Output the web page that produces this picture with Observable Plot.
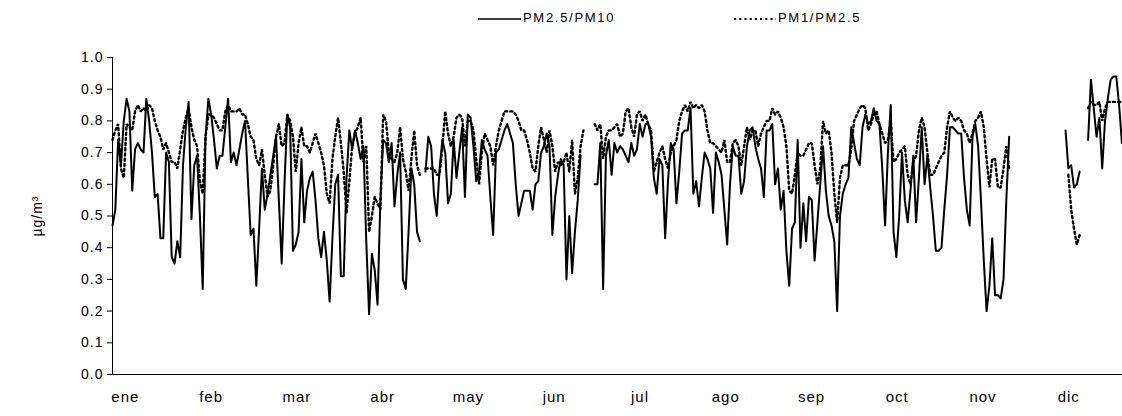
<!DOCTYPE html>
<html><head><meta charset="utf-8">
<script src="https://cdn.jsdelivr.net/npm/d3@7"></script>
<script src="https://cdn.jsdelivr.net/npm/@observablehq/plot@0.6"></script>
<style>
body{margin:0;background:#fff;font-family:"Liberation Sans",Arial,sans-serif;}
#legend{position:relative;height:40px;width:1122px;}
.lg{position:absolute;top:10px;font-size:13px;letter-spacing:1.7px;color:#000;line-height:16px;}
.sw{position:absolute;top:10px;}
</style></head><body>
<div id="legend"></div>
<div id="chart"></div>
<script>
const months = ["ene","feb","mar","abr","may","jun","jul","ago","sep","oct","nov","dic"];
const monthDays = [31,28,31,30,31,30,31,31,30,31,30,25];
const seriesNames = ["PM2.5/PM10","PM1/PM2.5"];
const yTicks = [0,0.1,0.2,0.3,0.4,0.5,0.6,0.7,0.8,0.9,1.0];

// PM2.5/PM10 (solid), daily values per month
const pm25_ene = [0.47,0.52,0.74,0.66,0.80,0.87,0.83,0.58,0.71,0.73,0.71,0.70,0.87,0.80,0.70,0.56,0.57,0.43,0.43,0.70,0.67,0.37,0.35,0.42,0.37,0.66,0.78,0.86,0.49,0.66,0.69];
const pm25_feb = [0.50,0.27,0.75,0.87,0.82,0.74,0.65,0.69,0.69,0.78,0.87,0.67,0.70,0.66,0.71,0.76,0.80,0.62,0.44,0.46,0.28,0.46,0.65,0.52,0.57,0.63,0.69,0.75];
const pm25_mar = [0.55,0.35,0.60,0.82,0.78,0.39,0.41,0.45,0.68,0.48,0.58,0.62,0.64,0.55,0.43,0.37,0.45,0.36,0.23,0.43,0.60,0.63,0.31,0.31,0.62,0.77,0.71,0.77,0.73,0.68,0.72];
const pm25_abr = [0.42,0.19,0.38,0.33,0.22,0.55,0.74,0.73,0.67,0.73,0.53,0.63,0.70,0.30,0.27,0.45,0.65,0.60,0.45,0.42,null,0.64,0.75,0.72,0.57,0.50,0.65,0.74,0.70,0.54];
const pm25_may = [0.57,0.74,0.62,0.70,0.78,0.56,0.82,0.81,0.72,0.61,0.64,0.74,0.71,0.69,0.56,0.44,0.70,0.71,0.74,0.77,0.79,0.76,0.73,0.60,0.50,0.54,0.58,0.58,0.58,0.52,0.60];
const pm25_jun = [0.61,0.70,0.72,0.76,0.72,0.44,0.56,0.63,0.68,0.66,0.30,0.50,0.32,0.45,0.55,0.69,null,null,null,null,0.60,0.60,0.73,0.27,0.69,0.74,0.63,0.73,0.70,0.72];
const pm25_jul = [0.71,0.69,0.67,0.73,0.69,0.71,0.79,0.75,0.79,0.79,0.75,0.62,0.57,0.68,0.66,0.43,0.61,0.73,0.71,0.54,0.64,0.76,0.77,0.77,0.84,0.57,0.61,0.53,0.62,0.70,0.68];
const pm25_ago = [0.65,0.51,0.70,0.67,0.63,0.52,0.41,0.60,0.72,0.69,0.69,0.57,0.61,0.72,0.77,0.78,0.72,0.68,0.65,0.56,0.77,0.77,0.79,0.60,0.65,0.52,0.58,0.39,0.28,0.46,0.48];
const pm25_sep = [0.74,0.40,0.54,0.42,0.56,0.55,0.36,0.48,0.60,0.72,0.58,0.50,0.47,0.42,0.20,0.50,0.57,0.60,0.62,0.78,0.73,0.68,0.66,0.78,0.82,0.79,0.80,0.84,0.80,0.79];
const pm25_oct = [0.65,0.47,0.70,0.85,0.45,0.37,0.50,0.70,0.55,0.48,0.58,0.69,0.48,0.62,0.78,0.60,0.69,0.59,0.50,0.39,0.39,0.40,0.52,0.63,0.78,0.78,0.77,0.76,0.76,0.62,0.52];
const pm25_nov = [0.47,0.75,0.79,0.72,0.55,0.36,0.20,0.28,0.43,0.25,0.25,0.24,0.30,0.55,0.75,null,null,null,null,null,null,null,null,null,null,null,null,null,null,null];
const pm25_dic = [null,null,null,null,0.77,0.65,0.66,0.59,0.60,0.64,null,null,0.74,0.93,0.84,0.75,0.81,0.65,0.80,0.87,0.93,0.94,0.94,0.85,0.73];

// PM1/PM2.5 (dotted), daily values per month
const pm1_ene = [0.74,0.77,0.79,0.65,0.62,0.79,0.78,0.77,0.83,0.85,0.83,0.84,0.83,0.85,0.84,0.80,0.77,0.75,0.71,0.73,0.70,0.67,0.67,0.65,0.71,0.77,0.81,0.84,0.78,0.74,0.72];
const pm1_feb = [0.61,0.57,0.75,0.82,0.82,0.81,0.79,0.77,0.77,0.83,0.85,0.83,0.83,0.83,0.84,0.82,0.82,0.79,0.75,0.74,0.68,0.66,0.71,0.63,0.56,0.58,0.66,0.75];
const pm1_mar = [0.79,0.72,0.73,0.82,0.80,0.75,0.64,0.73,0.78,0.72,0.72,0.70,0.73,0.76,0.73,0.70,0.66,0.57,0.54,0.68,0.75,0.81,0.73,0.64,0.51,0.61,0.72,0.76,0.78,0.81,0.67];
const pm1_abr = [0.72,0.45,0.50,0.56,0.54,0.52,0.82,0.80,0.70,0.68,0.67,0.70,0.78,0.68,0.64,0.58,0.68,0.77,0.66,0.63,null,0.65,0.65,0.65,0.65,0.63,0.63,0.72,0.83,0.76];
const pm1_may = [0.72,0.75,0.81,0.82,0.81,0.72,0.80,0.80,0.77,0.68,0.60,0.70,0.76,0.74,0.72,0.66,0.72,0.77,0.80,0.83,0.83,0.83,0.83,0.82,0.80,0.77,0.77,0.74,0.70,0.65,0.64];
const pm1_jun = [0.72,0.78,0.74,0.70,0.77,0.72,0.64,0.67,0.66,0.67,0.70,0.64,0.74,0.57,0.62,0.72,0.77,null,null,null,0.79,0.77,0.79,0.68,0.75,0.77,0.77,0.78,0.79,0.75];
const pm1_jul = [0.76,0.83,0.84,0.78,0.75,0.82,0.83,0.80,0.82,0.79,0.77,0.64,0.67,0.70,0.72,0.68,0.65,0.70,0.72,0.74,0.80,0.83,0.85,0.83,0.86,0.84,0.85,0.84,0.85,0.83,0.77];
const pm1_ago = [0.73,0.73,0.72,0.71,0.70,0.74,0.67,0.67,0.73,0.74,0.72,0.66,0.72,0.78,0.74,0.77,0.77,0.72,0.76,0.78,0.80,0.80,0.84,0.82,0.83,0.81,0.78,0.72,0.58,0.57,0.63];
const pm1_sep = [0.70,0.69,0.69,0.71,0.73,0.73,0.66,0.60,0.65,0.80,0.76,0.77,0.70,0.57,0.48,0.62,0.66,0.66,0.66,0.71,0.80,0.82,0.84,0.85,0.84,0.77,0.79,0.82,0.83,0.79];
const pm1_oct = [0.76,0.73,0.74,0.80,0.67,0.68,0.70,0.71,0.72,0.63,0.60,0.67,0.69,0.77,0.81,0.78,0.70,0.63,0.63,0.65,0.67,0.69,0.70,0.78,0.83,0.81,0.80,0.81,0.80,0.77,0.76];
const pm1_nov = [0.73,0.76,0.80,0.81,0.83,0.78,0.68,0.59,0.68,0.68,0.59,0.59,0.65,0.72,0.65,null,null,null,null,null,null,null,null,null,null,null,null,null,null,null];
const pm1_dic = [null,null,null,null,null,0.63,0.52,0.46,0.41,0.44,null,null,0.84,0.86,0.85,0.85,0.86,0.80,0.84,0.86,0.86,0.86,0.86,0.86,0.86];

const pm25All = [pm25_ene,pm25_feb,pm25_mar,pm25_abr,pm25_may,pm25_jun,pm25_jul,pm25_ago,pm25_sep,pm25_oct,pm25_nov,pm25_dic].flat();
const pm1All = [pm1_ene,pm1_feb,pm1_mar,pm1_abr,pm1_may,pm1_jun,pm1_jul,pm1_ago,pm1_sep,pm1_oct,pm1_nov,pm1_dic].flat();
const nDays = d3.sum(monthDays);
const solidData = pm25All.map((v,i)=>({day:i, v}));
const dottedData = pm1All.map((v,i)=>({day:i, v}));

// month labels: equally spaced, one per month
const monthSpan = 365/12;
const labelPos = months.map((m,i)=> i*monthSpan + monthSpan*0.15);

// legend (HTML, above the svg)
const lg = document.getElementById("legend");
lg.innerHTML = `
<svg class="sw" style="left:478px" width="44" height="16"><line x1="0" x2="43" y1="9" y2="9" stroke="#000" stroke-width="1.5"/></svg>
<div class="lg" style="left:523px">${seriesNames[0]}</div>
<svg class="sw" style="left:734px" width="44" height="16"><line x1="0" x2="42" y1="9" y2="9" stroke="#000" stroke-width="2" stroke-dasharray="2.2,3"/></svg>
<div class="lg" style="left:778px">${seriesNames[1]}</div>`;

const chart = Plot.plot({
  width: 1122,
  height: 376,
  marginTop: 17,
  marginBottom: 42,
  marginLeft: 112,
  marginRight: 0,
  style: {fontFamily: "'Liberation Sans', Arial, sans-serif", fontSize: "14px", letterSpacing: "1px", background: "#fff", overflow: "visible"},
  x: {domain: [0, nDays - 0.8]},
  y: {domain: [0, 1]},
  marks: [
    Plot.axisY(yTicks, {tickSize: 5, tickPadding: 4, fontSize: 14, tickFormat: d => d.toFixed(1),
      label: "µg/m³", labelAnchor: "center", labelArrow: "none", labelOffset: 80, stroke: "#000"}),
    Plot.axisX(labelPos, {tickSize: 0, tickPadding: 17, fontSize: 15, tickFormat: d => months[labelPos.indexOf(d)], label: null}),
    Plot.line(dottedData, {x: "day", y: "v", stroke: "#000", strokeWidth: 2.4, strokeDasharray: "2.2,3", strokeLinejoin: "miter"}),
    Plot.line(solidData, {x: "day", y: "v", stroke: "#000", strokeWidth: 2}),
    Plot.ruleX([0], {stroke: "#000", strokeWidth: 1}),
    Plot.ruleY([0], {stroke: "#000", strokeWidth: 1})
  ]
});
document.getElementById("chart").appendChild(chart);
</script>
</body></html>
